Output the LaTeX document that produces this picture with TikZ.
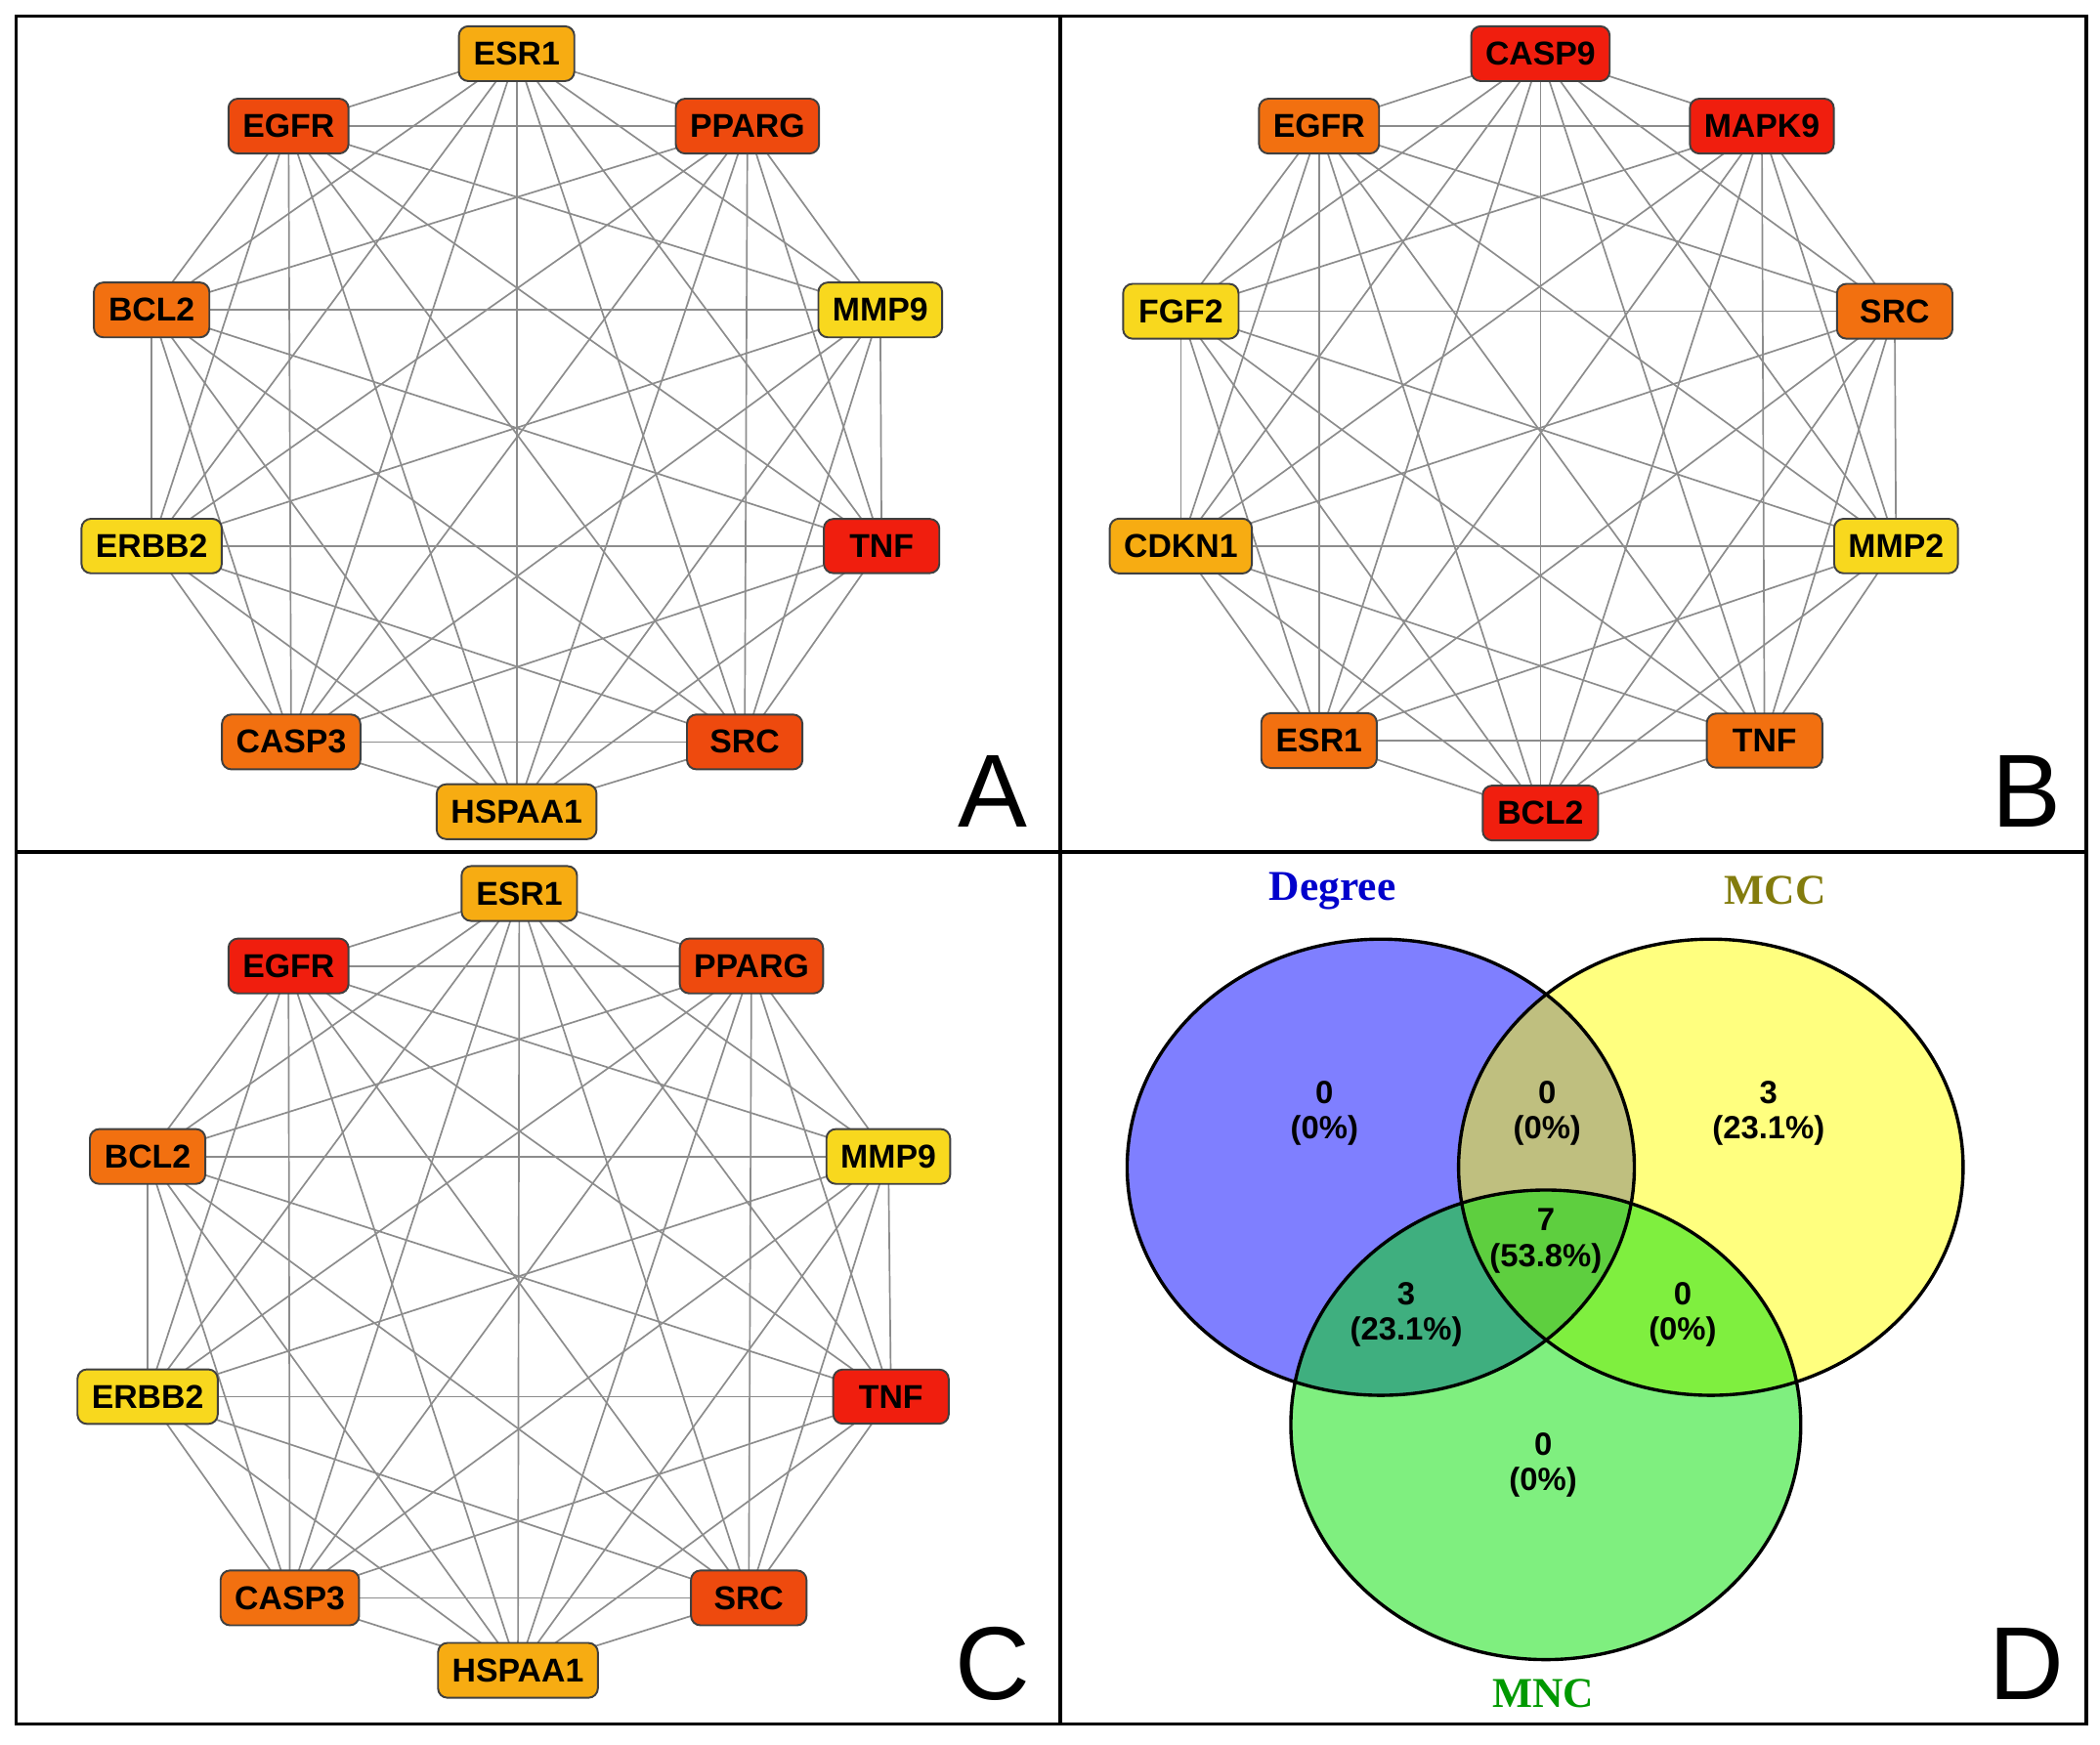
\documentclass[tikz,border=0pt]{standalone}
\usepackage{fontspec}
\setmainfont{Liberation Sans}
\newfontfamily\serifbf{Liberation Serif}
\usetikzlibrary{backgrounds}
\definecolor{gred}{HTML}{F01E0E}
\definecolor{gredor}{HTML}{EE4A0E}
\definecolor{gor}{HTML}{F27010}
\definecolor{gyor}{HTML}{F7AC12}
\definecolor{gyel}{HTML}{F8D81E}
\definecolor{vblue}{HTML}{0000FF}
\definecolor{vyel}{HTML}{FFFF00}
\definecolor{vgreen}{HTML}{00E000}
\tikzset{
  gene/.style={draw=black!75, rounded corners=2pt, fill=#1, minimum height=0.4cm,
    minimum width=0.86cm, inner xsep=3pt, font=\fontsize{7}{8}\selectfont\bfseries},
  link/.style={draw=black!45, line width=0.35pt},
  panel/.style={font=\fontsize{22}{24}\selectfont},
  count/.style={font=\fontsize{6.8}{7.5}\selectfont\bfseries, align=center},
  set/.style={font=\fontsize{9}{11}\selectfont\serifbf\bfseries},
}
\begin{document}
\begin{tikzpicture}[x=0.01cm, y=-0.01cm]
\useasboundingbox (0,0) rectangle (1565,1300);
\draw[line width=0.8pt] (12,12) rectangle (1555,1285);
\draw[line width=0.8pt] (790,12) -- (790,1285);
\draw[line width=0.8pt] (12,635) -- (1555,635);

% panel A
\foreach \n/\x/\y/\t/\c in {1/385/40/ESR1/gyor, 2/215/94/EGFR/gredor, 3/557/94/PPARG/gredor,
    4/113/231/BCL2/gor, 5/656/231/MMP9/gyel, 6/113/407/ERBB2/gyel, 7/657/407/TNF/gred,
    8/217/553/CASP3/gor, 9/555/553/SRC/gredor, 10/385/605/HSPAA1/gyor}
  \node[gene=\c] (a\n) at (\x,\y) {\t};
% panel B
\foreach \n/\x/\y/\t/\c in {1/1148/40/CASP9/gred, 2/983/94/EGFR/gor, 3/1313/94/MAPK9/gred,
    4/880/232/FGF2/gyel, 5/1412/232/SRC/gor, 6/880/407/CDKN1/gyor, 7/1413/407/MMP2/gyel,
    8/983/552/ESR1/gor, 9/1315/552/TNF/gor, 10/1148/606/BCL2/gred}
  \node[gene=\c] (b\n) at (\x,\y) {\t};
% panel C
\foreach \n/\x/\y/\t/\c in {1/387/666/ESR1/gyor, 2/215/720/EGFR/gred, 3/560/720/PPARG/gredor,
    4/110/862/BCL2/gor, 5/662/862/MMP9/gyel, 6/110/1041/ERBB2/gyel, 7/664/1041/TNF/gred,
    8/216/1191/CASP3/gor, 9/558/1191/SRC/gredor, 10/386/1245/HSPAA1/gyor}
  \node[gene=\c] (c\n) at (\x,\y) {\t};

\begin{scope}[on background layer]
  \foreach \p in {a,b,c}
    \foreach \i in {1,...,9} {
      \pgfmathtruncatemacro\k{\i+1}
      \foreach \j in {\k,...,10}
        \draw[link] (\p\i.center) -- (\p\j.center);
    }
\end{scope}

\node[panel] (la) at (740,590) {A};
\node[panel] (lb) at (1510,590) {B};
\node[panel] (lc) at (740,1240) {C};
\node[panel] (ld) at (1510,1240) {D};

% panel D
\fill[vblue, fill opacity=0.5] (1029,870) ellipse (189 and 170);
\fill[vyel, fill opacity=0.5] (1275,870) ellipse (188 and 170);
\fill[vgreen, fill opacity=0.5] (1152,1062) ellipse (190 and 175);
\draw[line width=0.7pt] (1029,870) ellipse (189 and 170);
\draw[line width=0.7pt] (1275,870) ellipse (188 and 170);
\draw[line width=0.7pt] (1152,1062) ellipse (190 and 175);
\node[set, text=vblue!80!black] (deg) at (993,664) {Degree};
\node[set, text=olive!90!black] (mcc) at (1323,664) {MCC};
\node[set, text=green!60!black] (mnc) at (1150,1262) {MNC};
\node[count] (d1) at (987,830) {0\\(0\%)};
\node[count] (d2) at (1153,830) {0\\(0\%)};
\node[count] (d3) at (1318,830) {3\\(23.1\%)};
\node[count] (d4) at (1152,925) {7\\(53.8\%)};
\node[count] (d5) at (1048,980) {3\\(23.1\%)};
\node[count] (d6) at (1254,980) {0\\(0\%)};
\node[count] (d7) at (1150,1092) {0\\(0\%)};
\end{tikzpicture}
\end{document}
